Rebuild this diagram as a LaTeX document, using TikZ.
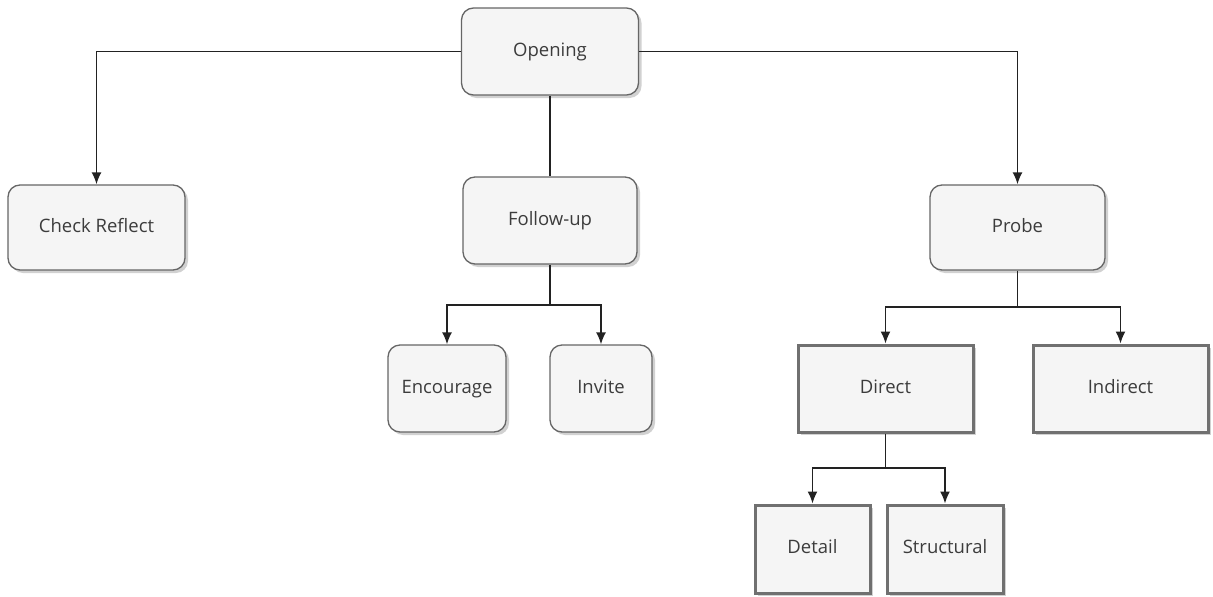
\documentclass[tikz,border=0pt]{standalone}
\usepackage{fontspec}
\setmainfont{Open Sans}
\usepackage{tikz}
\usetikzlibrary{arrows.meta,shadows}
\definecolor{boxfill}{HTML}{F5F5F5}
\definecolor{boxline}{HTML}{666666}
\definecolor{heavyline}{HTML}{707070}
\definecolor{textgray}{HTML}{3C3C3C}
\definecolor{wire}{HTML}{222222}
\tikzset{
  box/.style={fill=boxfill, text=textgray, inner sep=0pt,
    font=\fontsize{18.5}{22}\selectfont, text height=13pt, text depth=4pt,
    drop shadow={shadow xshift=3pt, shadow yshift=-3pt, fill=black!30, opacity=0.6}},
  roundbox/.style={box, draw=boxline, line width=1.3pt, rounded corners=12pt},
  sharpbox/.style={box, draw=heavyline, line width=3pt},
  wireline/.style={draw=wire, line width=1.6pt},
  link/.style={wireline, -{Latex[length=12pt,width=10pt]}}
}

\begin{document}
\begin{tikzpicture}[x=1pt,y=-1pt]
\useasboundingbox (0,0) rectangle (1213,597);
\node[roundbox, minimum width=177pt, minimum height=87pt] (open) at (550,51.5) {Opening};
\node[roundbox, minimum width=177pt, minimum height=85pt] (check) at (96.5,227.5) {Check Reflect};
\node[roundbox, minimum width=174pt, minimum height=87pt] (follow) at (550,220.5) {Follow-up};
\node[roundbox, minimum width=175pt, minimum height=85pt] (probe) at (1017.5,227.5) {Probe};
\node[roundbox, minimum width=118pt, minimum height=87pt] (enc) at (447,388.5) {Encourage};
\node[roundbox, minimum width=102pt, minimum height=87pt] (inv) at (601,388.5) {Invite};
\node[sharpbox, minimum width=175pt, minimum height=87pt] (direct) at (885.5,388.5) {Direct};
\node[sharpbox, minimum width=175pt, minimum height=87pt] (indirect) at (1120.5,388.5) {Indirect};
\node[sharpbox, minimum width=115pt, minimum height=88pt] (detail) at (812.5,549) {Detail};
\node[sharpbox, minimum width=116pt, minimum height=88pt] (struct) at (945,549) {Structural};
\coordinate (fj) at (550,305);
\coordinate (pj) at (1017.5,307);
\coordinate (dj) at (885.5,468);
% connectors
\draw[link] (open.west) -| (check.north);
\draw[link] (open.east) -| (probe.north);
\draw[wireline] (open.south) -- (follow.north);
\draw[wireline] (follow.south) -- (fj);
\draw[link] (fj) -| (enc.north);
\draw[link] (fj) -| (inv.north);
\draw[wireline] (probe.south) -- (pj);
\draw[link] (pj) -| (direct.north);
\draw[link] (pj) -| (indirect.north);
\draw[wireline] (direct.south) -- (dj);
\draw[link] (dj) -| (detail.north);
\draw[link] (dj) -| (struct.north);
\end{tikzpicture}
\end{document}
